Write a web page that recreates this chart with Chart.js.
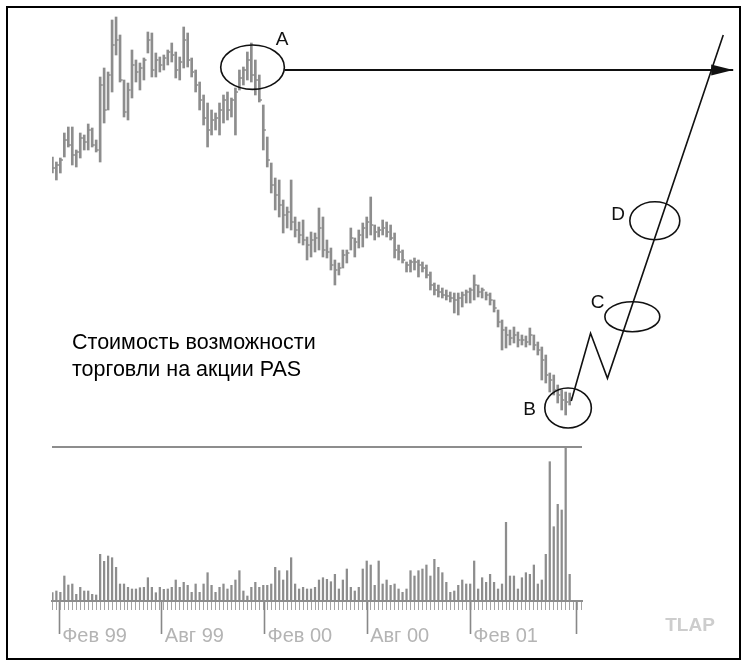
<!DOCTYPE html>
<html><head><meta charset="utf-8">
<script src="https://cdn.jsdelivr.net/npm/chart.js@4.4.1/dist/chart.umd.min.js"></script>
<style>html,body{margin:0;padding:0;background:#fff;}canvas{display:block;}</style>
</head><body>
<canvas id="c" width="750" height="671" style="width:750px;height:671px"></canvas>
<script>
// ---- price bars (weekly), arbitrary price units ----
const highs = [44.4,43.9,44.3,46.8,47.4,47.4,45.1,46.8,46.6,47.7, 47.3,46.1,52.4,53.3,52.9,58.1,58.4,56.6,52.1,51.8, 55.1,54.1,53.8,54.3,56.9,56.8,54.8,54.4,54.6,55.1, 55.8,54.9,54.4,57.4,56.8,54.3,53.1,51.9,50.6,49.8, 49.1,48.8,49.8,50.6,50.9,50.3,51.3,53.1,53.4,54.9, 55.8,54.1,52.6,49.6,46.4,43.8,42.3,42.1,40.1,39.4, 42.1,38.4,37.9,38.1,36.4,36.9,36.8,39.3,38.4,36.1, 35.3,34.1,33.8,35.1,35.1,37.3,36.3,37.1,37.8,38.4, 40.4,37.6,37.4,38.1,37.9,37.6,36.8,35.6,35.1,33.9, 34.1,34.3,34.1,33.9,33.6,32.9,31.8,31.6,31.3,31.1, 30.9,30.8,30.8,30.9,31.1,31.3,32.6,31.6,31.3,30.9, 30.8,30.1,29.1,28.1,27.4,27.1,27.4,26.9,26.6,26.5, 27.3,26.6,25.9,25.4,24.6,22.8,22.6,21.6,21.1,20.9, 20.8];
const lows = [42.8,42.1,42.8,44.4,45.4,43.6,43.4,44.3,45.1,45.1, 45.4,44.9,43.9,47.8,49.1,50.9,54.6,51.9,48.4,48.1, 50.3,51.9,51.1,52.1,54.8,52.4,52.4,52.9,53.1,53.6, 53.9,52.3,52.1,53.3,53.4,52.4,50.9,49.1,47.6,45.4, 46.6,47.1,46.6,47.8,48.1,48.4,46.6,51.1,51.6,52.1, 51.9,50.6,49.9,45.1,43.4,40.8,39.1,38.4,36.8,37.3, 37.1,36.4,35.8,35.6,34.1,34.4,34.9,35.1,34.4,34.3, 33.1,31.6,32.6,33.3,33.8,35.1,34.4,35.3,35.4,36.3, 36.6,36.1,36.4,36.6,36.4,36.1,34.3,34.1,33.8,32.9, 32.9,33.1,32.4,32.9,32.3,31.1,30.6,30.4,30.3,30.1, 29.9,28.8,28.6,29.4,29.8,29.8,30.1,30.4,30.3,30.1, 29.6,28.9,27.4,25.1,25.3,25.6,25.8,25.4,25.6,25.4, 25.6,25.1,24.6,22.1,21.8,20.9,20.6,19.8,19.1,18.6, 19.6];
const closes = [43.3,43.6,44.1,46.1,45.6,44.6,44.9,46.3,45.9,47.1, 45.6,45.1,51.6,49.1,52.6,55.6,56.1,52.1,48.9,51.1, 53.6,52.9,53.3,54.1,56.1,53.1,54.1,53.6,54.3,54.9, 54.6,53.1,53.9,56.1,54.1,52.9,51.6,50.1,48.3,47.1, 48.1,48.3,49.1,50.1,49.1,50.1,50.9,52.3,53.1,54.1, 52.6,52.1,50.1,47.1,44.1,41.6,40.6,39.6,38.6,38.9, 37.9,37.1,36.6,36.1,35.6,36.1,36.3,37.3,35.1,34.9, 33.6,33.1,33.3,34.6,34.8,36.3,35.9,36.6,37.3,37.9, 37.6,36.9,37.1,37.3,36.9,36.3,35.1,34.9,34.1,33.6, 33.9,33.9,33.6,33.3,32.6,31.6,31.1,30.9,30.6,30.5, 30.3,30.1,30.3,30.6,30.9,31.1,31.6,30.9,31.1,30.6, 30.1,29.3,27.9,27.1,26.6,26.3,26.6,26.1,26.1,25.9, 26.6,25.6,25.1,24.1,22.6,22.1,21.1,20.6,20.1,19.9, 20.3];
const volumes = [83,100,87,250,160,170,67,137,100,100, 67,60,467,397,450,433,337,170,170,137, 120,120,133,137,233,137,83,137,117,120, 137,210,137,187,157,87,170,87,170,283, 157,87,137,170,120,157,210,303,100,50, 137,187,137,157,157,170,337,303,210,303, 433,170,120,137,120,120,137,210,233,217, 193,267,120,210,320,137,100,137,320,400, 360,157,400,170,210,157,170,120,87,120, 303,250,303,320,360,250,417,337,283,187, 87,100,157,210,170,170,400,120,233,187, 267,187,120,170,787,250,250,120,233,283, 267,360,170,210,467,1393,743,967,910,1537, 267];

// ---- time axis (week index) ----
const majorTickPos = [1.7, 27.5, 53.3, 79.1, 105.0, 131.7];
const majorTickLabels = ['Фев 99', 'Авг 99', 'Фев 00', 'Авг 00', 'Фев 01', ''];
const X_MIN = -0.1, X_MAX = 133.1;

// ---- hand-drawn annotations, in data units (week index, price) ----
const arrowX = [58.3, 171.1];
const arrowY = [53.1, 53.1];
const zigX = [130.4, 135.25, 139.5, 168.6];
const zigY = [20.0, 26.77, 22.27, 56.6];
const ellCX = [50.3, 129.6, 145.75, 151.4];
const ellCY = [53.38, 19.3, 28.43, 38.02];
const ellRX = [8.0, 5.85, 6.9, 6.28];
const ellRY = [2.22, 2.0, 1.5, 1.9];
const pointLabels = ['A', 'B', 'C', 'D'];
const pointLabelX = [57.7, 119.9, 137.0, 142.2];
const pointLabelY = [56.1, 19.1, 29.85, 38.65];
const captionLines = ['Стоимость возможности', 'торговли на акции PAS'];
const watermark = 'TLAP';

const FONT = "'Liberation Sans', Arial, sans-serif";
const GREY = '#8d8d8d';
const maxVol = Math.max(...volumes);
const weekTicks = [];
for (let i = 0; i <= 133; i++) weekTicks.push(i);

const overlay = {
  id: 'overlay',
  beforeDraw(chart) {
    const ctx = chart.ctx;
    ctx.save(); ctx.fillStyle = '#fff'; ctx.fillRect(0, 0, chart.width, chart.height); ctx.restore();
  },
  afterDatasetsDraw(chart) {
    const ctx = chart.ctx, x = chart.scales.x, y = chart.scales.y;
    const px = v => x.getPixelForValue(v), py = v => y.getPixelForValue(v);
    ctx.save();
    ctx.strokeStyle = '#111'; ctx.fillStyle = '#111'; ctx.lineWidth = 1.6;
    for (let i = 0; i < ellCX.length; i++) {
      const cx = px(ellCX[i]), cy = py(ellCY[i]);
      const rx = Math.abs(px(ellCX[i] + ellRX[i]) - cx), ry = Math.abs(py(ellCY[i] + ellRY[i]) - cy);
      ctx.beginPath(); ctx.ellipse(cx, cy, rx, ry, 0, 0, Math.PI * 2); ctx.stroke();
    }
    // arrow head
    const tx = px(arrowX[1]), ty = py(arrowY[1]);
    ctx.beginPath(); ctx.moveTo(tx, ty); ctx.lineTo(tx - 22, ty - 5.5); ctx.lineTo(tx - 22, ty + 5.5); ctx.closePath(); ctx.fill();
    // point labels
    ctx.font = '19px ' + FONT; ctx.textAlign = 'center'; ctx.textBaseline = 'middle';
    for (let i = 0; i < pointLabels.length; i++) ctx.fillText(pointLabels[i], px(pointLabelX[i]), py(pointLabelY[i]));
    // caption
    ctx.fillStyle = '#000'; ctx.font = '21.5px ' + FONT; ctx.textAlign = 'left';
    ctx.fillText(captionLines[0], 72, 343);
    ctx.fillText(captionLines[1], 72, 370);
    // watermark
    ctx.fillStyle = '#cdcdcd'; ctx.font = 'bold 19px ' + FONT; ctx.textAlign = 'center';
    ctx.fillText(watermark, 690, 626);
    // frame
    ctx.strokeStyle = '#000'; ctx.lineWidth = 2;
    ctx.strokeRect(7, 7, 733, 652);
    ctx.restore();
  }
};

const setX = s => { s.min = X_MIN; s.max = X_MAX; };

new Chart(document.getElementById('c'), {
  type: 'bar',
  data: {
    datasets: [
      { type: 'bar', label: 'Объём', data: volumes.map((v, i) => ({ x: i, y: v })), xAxisID: 'x', yAxisID: 'yv',
        backgroundColor: GREY, barThickness: 1.6, maxBarThickness: 1.6, grouped: false, order: 5 },
      { type: 'bar', label: 'Цена', data: highs.map((h, i) => ({ x: i, y: [lows[i], h] })), xAxisID: 'x', yAxisID: 'y',
        backgroundColor: GREY, barThickness: 2, maxBarThickness: 2, grouped: false, order: 4 },
      { type: 'line', label: 'Закрытие', data: closes.map((c, i) => ({ x: i + 0.33, y: c })), xAxisID: 'x', yAxisID: 'y',
        showLine: false, pointStyle: 'line', pointRadius: 1.3, pointBorderWidth: 1.5, pointBorderColor: GREY, order: 3 },
      { type: 'line', label: 'zig', data: zigX.map((v, i) => ({ x: v, y: zigY[i] })), xAxisID: 'x', yAxisID: 'y',
        borderColor: '#111', borderWidth: 1.6, pointRadius: 0, clip: false, tension: 0, order: 2 },
      { type: 'line', label: 'arrow', data: arrowX.map((v, i) => ({ x: v, y: arrowY[i] })), xAxisID: 'x', yAxisID: 'y',
        borderColor: '#111', borderWidth: 2, pointRadius: 0, clip: false, tension: 0, order: 1 }
    ]
  },
  options: {
    responsive: false, devicePixelRatio: 1, animation: false,
    layout: { padding: { left: 52, right: 168, top: 10, bottom: 11 } },
    plugins: { legend: { display: false }, tooltip: { enabled: false } },
    scales: {
      x: {
        type: 'linear', position: 'bottom', weight: 0, offset: false, bounds: 'data',
        afterDataLimits: setX,
        afterBuildTicks: s => { s.ticks = weekTicks.concat(majorTickPos).sort((a, b) => a - b).map(v => ({ value: v })); },
        afterFit: s => { s.height = 9; },
        ticks: { display: false },
        grid: { drawOnChartArea: false, offset: false, drawTicks: true, tickLength: 9,
          tickColor: c => majorTickPos.includes(c.tick.value) ? '#888' : '#a4a4a4',
          tickWidth: c => majorTickPos.includes(c.tick.value) ? 1.6 : 1 },
        border: { display: true, color: GREY, width: 2 }
      },
      x2: {
        type: 'linear', position: 'bottom', weight: 1, offset: false, bounds: 'data',
        afterDataLimits: setX,
        afterBuildTicks: s => { s.ticks = majorTickPos.map(v => ({ value: v })); },
        afterFit: s => { s.height = 50; },
        ticks: { display: true, autoSkip: false, maxRotation: 0, minRotation: 0, align: 'start', labelOffset: 3, padding: -10,
          color: '#b4b4b4', font: { size: 20, family: FONT },
          callback: v => majorTickLabels[majorTickPos.indexOf(v)] },
        grid: { drawOnChartArea: false, offset: false, drawTicks: true, tickLength: 24, tickColor: '#888', tickWidth: 1.6 },
        border: { display: false }
      },
      y: { type: 'linear', display: false, min: 0, max: 59.1 },
      yv: {
        type: 'linear', display: true, position: 'left', min: 0, max: 5910,
        afterBuildTicks: s => { s.ticks = [{ value: maxVol }]; },
        afterFit: s => { s.width = 0; },
        ticks: { display: false },
        grid: { drawTicks: false, color: GREY, lineWidth: 2 },
        border: { display: false }
      }
    }
  },
  plugins: [overlay]
});
</script>
</body></html>
